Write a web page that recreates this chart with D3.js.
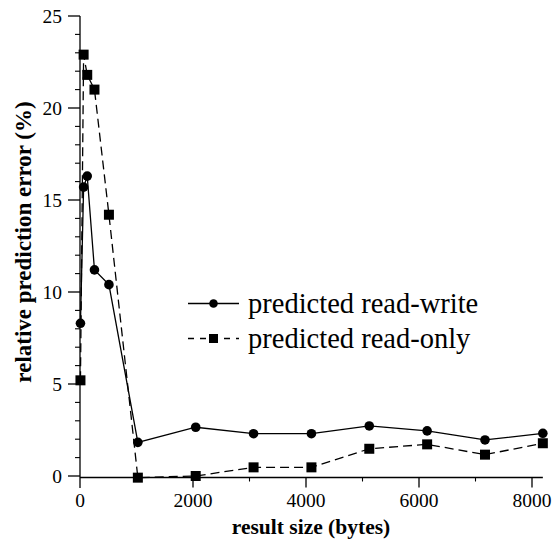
<!DOCTYPE html>
<html><head><meta charset="utf-8">
<script src="https://cdn.jsdelivr.net/npm/d3@7"></script>
<style>body{margin:0;background:#fff}svg{display:block}</style>
</head><body><svg id="c" width="553" height="544" font-family="'Liberation Serif', 'Times New Roman', Times, 'DejaVu Serif', serif"></svg>
<script>
const sizes = [8, 64, 128, 256, 512, 1024, 2048, 3072, 4096, 5120, 6144, 7168, 8192];
const readWrite = [8.3, 15.7, 16.3, 11.2, 10.4, 1.83, 2.65, 2.3, 2.3, 2.72, 2.45, 1.96, 2.32];
const readOnly = [5.2, 22.9, 21.8, 21.0, 14.2, -0.09, 0.0, 0.47, 0.47, 1.48, 1.72, 1.16, 1.78];
const xTicks = [0, 2000, 4000, 6000, 8000];
const xMinor = [1000, 3000, 5000, 7000];
const yTicks = [0, 5, 10, 15, 20, 25];
const yMinor = d3.range(0, 26, 1).filter(v => v % 5 !== 0);
const legendLabels = ["predicted read-write", "predicted read-only"];

const svg = d3.select("#c");
const x = d3.scaleLinear().domain([0, 8000]).range([80, 532]);
const y = d3.scaleLinear().domain([0, 25]).range([476, 16]);
const axisY = 477.5;

// y axis
const gy = svg.append("g").attr("transform", "translate(80,0)");
gy.append("line").attr("x1", 0).attr("x2", 0).attr("y1", y(25)).attr("y2", 488).attr("stroke", "#000").attr("stroke-width", 1.3);
gy.selectAll(".ymaj").data(yTicks).join("line").attr("class","ymaj").attr("x1", -12).attr("x2", 0).attr("y1", d => y(d)).attr("y2", d => y(d)).attr("stroke", "#000").attr("stroke-width", 1.3);
gy.selectAll(".ymin").data(yMinor).join("line").attr("class","ymin").attr("x1", -5).attr("x2", 0).attr("y1", d => y(d)).attr("y2", d => y(d)).attr("stroke", "#000").attr("stroke-width", 1.1);
gy.selectAll(".ylab").data(yTicks).join("text").attr("class","ylab").attr("x", -18).attr("y", d => y(d)).attr("dy", "0.35em").attr("text-anchor", "end").attr("font-size", 19.5).text(d => d);

// x axis
const gx = svg.append("g").attr("transform", `translate(0,${axisY})`);
gx.append("line").attr("x1", 80).attr("x2", x(8192)).attr("y1", 0).attr("y2", 0).attr("stroke", "#000").attr("stroke-width", 1.3);
gx.selectAll(".xmaj").data(xTicks.filter(d => d > 0)).join("line").attr("class","xmaj").attr("x1", d => x(d)).attr("x2", d => x(d)).attr("y1", 0).attr("y2", 10).attr("stroke", "#000").attr("stroke-width", 1.3);
gx.selectAll(".xmin").data(xMinor).join("line").attr("class","xmin").attr("x1", d => x(d)).attr("x2", d => x(d)).attr("y1", 0).attr("y2", 4).attr("stroke", "#000").attr("stroke-width", 1.1);
gx.selectAll(".xlab").data(xTicks).join("text").attr("class","xlab").attr("x", d => x(d)).attr("y", 29).attr("text-anchor", "middle").attr("font-size", 19.5).text(d => d);

// titles
svg.append("text").attr("x", 311).attr("y", 534).attr("text-anchor", "middle").attr("font-size", 21.5).attr("font-weight", "bold").text("result size (bytes)");
svg.append("text").attr("transform", "translate(31,242) rotate(-90)").attr("text-anchor", "middle").attr("font-size", 23).attr("font-weight", "bold").text("relative prediction error (%)");

// lines
const line = d3.line().x((d, i) => x(sizes[i])).y(d => y(d));
svg.append("path").attr("d", line(readOnly)).attr("fill", "none").attr("stroke", "#000").attr("stroke-width", 1.3).attr("stroke-dasharray", "9,5");
svg.append("path").attr("d", line(readWrite)).attr("fill", "none").attr("stroke", "#000").attr("stroke-width", 1.3);

svg.selectAll(".sq").data(readOnly).join("rect").attr("class","sq")
  .attr("x", (d, i) => x(sizes[i]) - 5).attr("y", d => y(d) - 5).attr("width", 10).attr("height", 10).attr("fill", "#000");
svg.selectAll(".ci").data(readWrite).join("circle").attr("class","ci")
  .attr("cx", (d, i) => x(sizes[i])).attr("cy", d => y(d)).attr("r", 4.8).attr("fill", "#000");

// legend
const lg = svg.append("g");
const rows = [303.5, 338.5];
lg.append("line").attr("x1", 188).attr("x2", 239).attr("y1", rows[0]).attr("y2", rows[0]).attr("stroke", "#000").attr("stroke-width", 1.3);
lg.append("circle").attr("cx", 213.5).attr("cy", rows[0]).attr("r", 4.3).attr("fill", "#000");
lg.append("line").attr("x1", 188).attr("x2", 239).attr("y1", rows[1]).attr("y2", rows[1]).attr("stroke", "#000").attr("stroke-width", 1.3).attr("stroke-dasharray", "6,6");
lg.append("rect").attr("x", 209).attr("y", rows[1] - 4.5).attr("width", 9).attr("height", 9).attr("fill", "#000");
lg.selectAll(".lt").data(legendLabels).join("text").attr("class","lt").attr("x", 248).attr("y", (d, i) => rows[i]).attr("dy", "0.33em").attr("font-size", 28.5).text(d => d);
</script></body></html>
